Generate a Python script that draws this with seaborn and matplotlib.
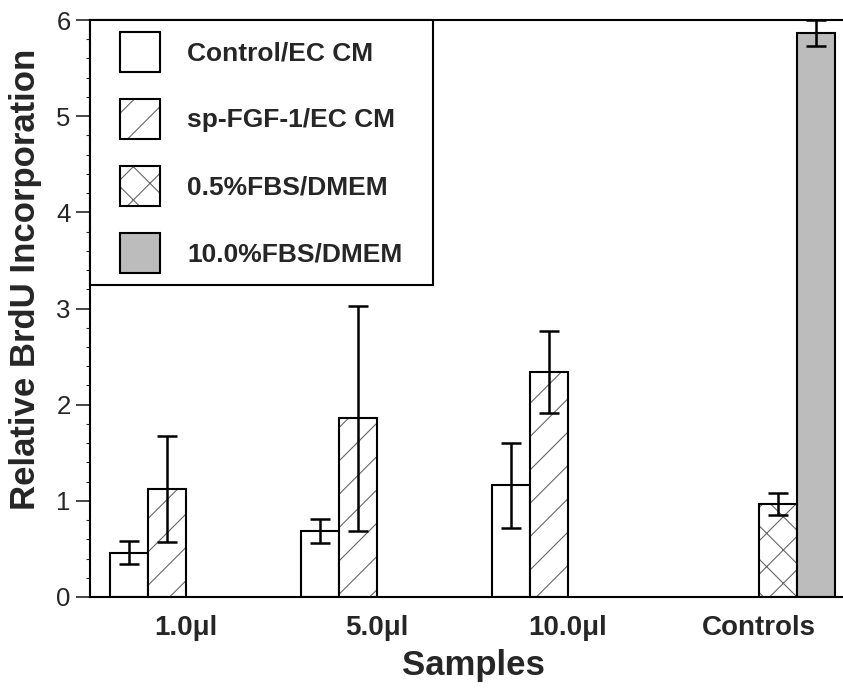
import matplotlib
matplotlib.use("Agg")
from matplotlib import pyplot as plt
from matplotlib.legend_handler import HandlerPatch
from matplotlib.patches import Patch, Rectangle
from matplotlib.ticker import MultipleLocator
import pandas as pd
import seaborn as sns

# values
samples = ["1.0\u03bcl", "5.0\u03bcl", "10.0\u03bcl", "Controls"]
conditions = ["Control/EC CM", "sp-FGF-1/EC CM", "0.5%FBS/DMEM", "10.0%FBS/DMEM"]
bar_sample = ["1.0\u03bcl", "1.0\u03bcl", "5.0\u03bcl", "5.0\u03bcl",
              "10.0\u03bcl", "10.0\u03bcl", "Controls", "Controls"]
bar_condition = ["Control/EC CM", "sp-FGF-1/EC CM", "Control/EC CM", "sp-FGF-1/EC CM",
                 "Control/EC CM", "sp-FGF-1/EC CM", "0.5%FBS/DMEM", "10.0%FBS/DMEM"]
bar_value = [0.46, 1.12, 0.69, 1.86, 1.16, 2.34, 0.97, 5.86]
bar_err = [0.12, 0.55, 0.125, 1.17, 0.44, 0.43, 0.115, 0.135]

face_colors = ["white", "white", "white", "#bcbcbc"]
hatches = ["", "/", "x", ""]
hatch_gray = (0.4, 0.4, 0.4, 1.0)

df = pd.DataFrame({"sample": bar_sample, "condition": bar_condition,
                   "value": bar_value, "err": bar_err})

sns.set_style("ticks")
plt.rcParams["font.family"] = ["Liberation Sans", "DejaVu Sans"]
plt.rcParams["hatch.linewidth"] = 0.8

fig = plt.figure(figsize=(8.43, 6.89), dpi=100)
ax = fig.add_axes([90 / 843, 92 / 689, 753 / 843, 577 / 689])

sns.barplot(data=df, x="sample", y="value", hue="condition", order=samples,
            hue_order=conditions, errorbar=None, width=0.8, legend=False, ax=ax)

# style each hue level and put error bars on the bars
err_lookup = {(s, c): e for s, c, e in zip(bar_sample, bar_condition, bar_err)}
bar_containers = list(ax.containers)
for i, container in enumerate(bar_containers):
    for bar in container:
        if bar is None:
            continue
        bar.set_facecolor(face_colors[i])
        bar.set_edgecolor("black")
        bar.set_linewidth(1.5)
        bar.set_hatch(hatches[i])
        bar._hatch_color = hatch_gray
        xc = bar.get_x() + bar.get_width() / 2
        h = bar.get_height()
        e = err_lookup[(samples[int(round(xc))], conditions[i])]
        ax.errorbar(xc, h, yerr=e, fmt="none", ecolor="black",
                    elinewidth=1.8, capsize=7.2, capthick=1.8, zorder=5)

ax.set_xlim(-0.503, 3.44)
ax.set_ylim(0, 6)
ax.yaxis.set_major_locator(MultipleLocator(1))
ax.yaxis.set_minor_locator(MultipleLocator(0.2))
ax.tick_params(axis="y", which="major", direction="out", length=10, width=1.2,
               labelsize=18.5, pad=4)
ax.tick_params(axis="y", which="minor", direction="out", length=3, width=0.8)
ax.tick_params(axis="x", length=0, labelsize=20, pad=13)
for lab in ax.get_xticklabels():
    lab.set_fontweight("bold")

for side in ["left", "bottom", "top"]:
    ax.spines[side].set_linewidth(1.5)
    ax.spines[side].set_color("black")
ax.spines["right"].set_visible(False)

ax.set_xlabel("Samples", fontsize=25, fontweight="bold")
ax.set_ylabel("Relative BrdU Incorporation", fontsize=25, fontweight="bold")
ax.xaxis.set_label_coords(0.509, -0.09)
ax.yaxis.set_label_coords(-0.064, 0.55)


def square_handle(legend, orig_handle, xdescent, ydescent, width, height, fontsize):
    return Rectangle((-xdescent + width - height, -ydescent), height, height)


handles = []
for i, cond in enumerate(conditions):
    p = Patch(facecolor=face_colors[i], edgecolor="black", hatch=hatches[i],
              linewidth=1.5, label=cond)
    p._hatch_color = hatch_gray
    handles.append(p)

fs = 19
fs_px = fs * 100 / 72
side_px = 40
leg = ax.legend(handles=handles, loc="upper left",
                bbox_to_anchor=(0, 1, 343 / 753, 0), mode="expand",
                borderaxespad=0, prop={"weight": "bold", "size": fs},
                handleheight=(side_px / fs_px - 0.245) / 0.65,
                handlelength=(side_px + 18) / fs_px,
                handletextpad=27 / fs_px, borderpad=12 / fs_px,
                labelspacing=27 / fs_px, fancybox=False, framealpha=1,
                handler_map={Patch: HandlerPatch(patch_func=square_handle)})
leg.get_frame().set_edgecolor("black")
leg.get_frame().set_linewidth(1.5)

plt.savefig("out.png", dpi=100)
